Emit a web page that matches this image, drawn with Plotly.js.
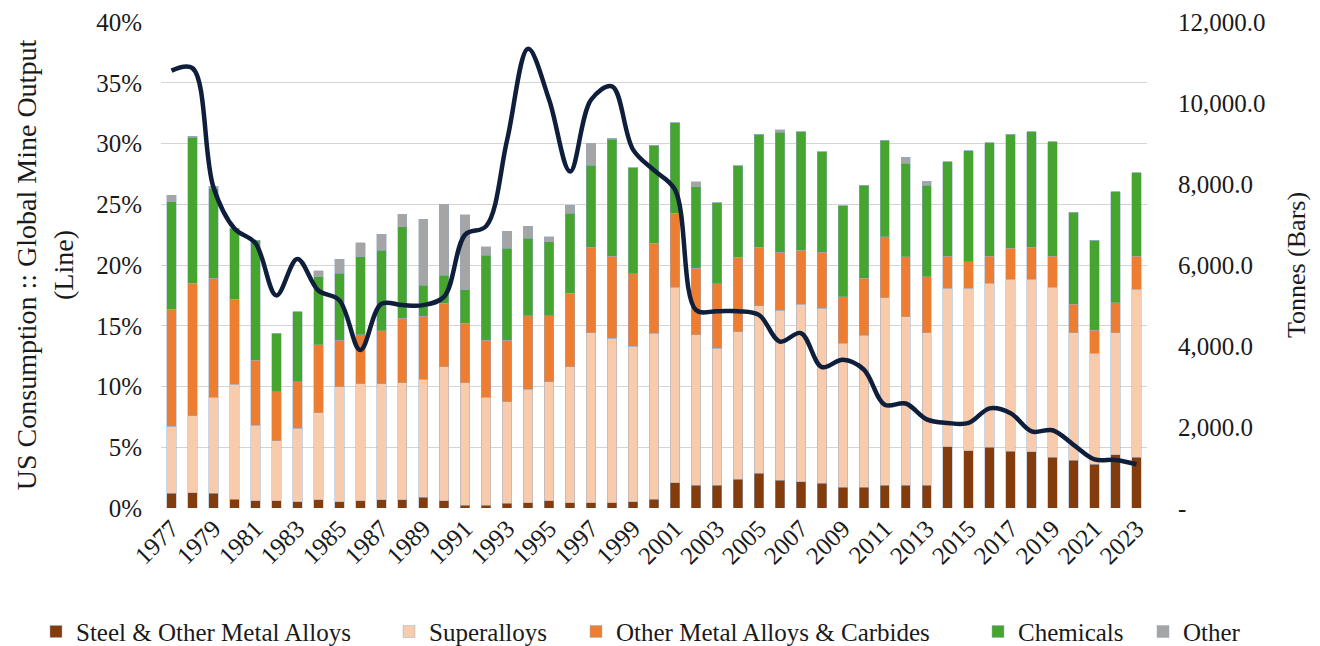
<!DOCTYPE html>
<html>
<head>
<meta charset="utf-8">
<script src="https://cdn.plot.ly/plotly-3.0.1.min.js"></script>
<style>
  html, body { margin: 0; padding: 0; background: #fff; }
  #chart { width: 1320px; height: 646px; }
</style>
</head>
<body>
<div id="chart"></div>
<script>
// years on the x axis
var years = [];
for (var yr = 1977; yr <= 2023; yr++) years.push(String(yr));

// tonnes by end use (bars, right axis)
var steel = [370, 378, 363, 222, 173, 173, 156, 198, 156, 173, 198, 198, 264, 173, 74, 74,
  116, 131, 173, 131, 131, 131, 156, 215, 625, 568, 568, 716, 857, 691, 649, 610,
  511, 511, 568, 568, 568, 1514, 1415, 1499, 1407, 1390, 1252, 1185, 1086, 1309, 1252];
var superalloys = [1654, 1894, 2370, 2839, 1876, 1489, 1812, 2155, 2839, 2889, 2864, 2896, 2913, 3316, 3020, 2659,
  2508, 2800, 2946, 3358, 4197, 4059, 3844, 4099, 4824, 3704, 3375, 3637, 4131, 4197, 4387, 4321,
  3555, 3760, 4624, 4155, 3760, 3911, 4010, 4049, 4239, 4257, 4197, 3143, 2733, 3020, 4148];
var otherAlloys = [2889, 3276, 2938, 2091, 1605, 1210, 1151, 1672, 1153, 1210, 1316, 1590, 1563, 1565, 1467, 1415,
  1523, 1810, 1622, 1812, 2108, 2032, 1778, 2222, 1827, 1647, 1588, 1837, 1449, 1425, 1333, 1383,
  1151, 1400, 1506, 1481, 1383, 797, 657, 674, 765, 790, 773, 709, 575, 741, 822];
var chemicals = [2649, 3605, 2222, 1753, 2963, 1442, 1728, 1687, 1647, 1933, 1992, 2262, 765, 699, 822, 2099,
  2264, 1918, 1834, 1975, 2032, 2881, 2625, 2427, 2237, 2015, 2007, 2262, 2797, 2963, 2921, 2484,
  2247, 2304, 2387, 2306, 2264, 2328, 2741, 2797, 2822, 2854, 2822, 2264, 2222, 2741, 2057];
var other = [165, 30, 50, 0, 0, 0, 0, 148, 346, 346, 388, 306, 1630, 1753, 1852, 205,
  427, 304, 123, 205, 536, 25, 0, 0, 0, 123, 0, 0, 0, 60, 0, 0,
  0, 0, 0, 148, 99, 0, 0, 0, 0, 0, 0, 0, 0, 0, 0];

// US consumption as share of global mine output, % (line, left axis)
var usShare = [36.0, 36.2, 26.4, 23.0, 21.8, 17.5, 20.5, 17.9, 17.1, 13.0, 16.8, 16.7, 16.7, 17.4, 22.5, 23.2,
  30.3, 37.8, 33.6, 27.7, 33.6, 34.7, 29.5, 27.8, 26.2, 16.3, 16.2, 16.2, 15.9, 13.7, 14.4, 11.6,
  12.2, 11.4, 8.5, 8.6, 7.3, 7.0, 7.0, 8.2, 7.8, 6.3, 6.4, 5.2, 4.0, 3.95, 3.6];

// tick labels
var yearTicks = years.filter(function (y, i) { return i % 2 === 0; });
var tonneTicks = [0, 2000, 4000, 6000, 8000, 10000, 12000];
var tonneLabels = ['-', '2,000.0', '4,000.0', '6,000.0', '8,000.0', '10,000.0', '12,000.0'];

var edge = { color: 'rgba(150,172,198,0.8)', width: 0.6 };
var serif = 'Liberation Serif, Times New Roman, serif';

function barTrace(name, vals, color, legendId) {
  return {
    type: 'bar', name: name, x: years, y: vals,
    xaxis: 'x', yaxis: 'y', legend: legendId,
    marker: { color: color, line: edge },
    hoverinfo: 'x+y+name'
  };
}

var traces = [
  barTrace('Steel & Other Metal Alloys', steel, '#843c0c', 'legend'),
  barTrace('Superalloys', superalloys, '#f8cbad', 'legend2'),
  barTrace('Other Metal Alloys & Carbides', otherAlloys, '#ed7d31', 'legend3'),
  barTrace('Chemicals', chemicals, '#45a52f', 'legend4'),
  barTrace('Other', other, '#a5a5a5', 'legend5'),
  {
    type: 'scatter', mode: 'lines', name: 'US share',
    x: years, y: usShare, xaxis: 'x', yaxis: 'y2',
    line: { color: '#0f1f3b', width: 4.5, shape: 'spline', smoothing: 1 },
    showlegend: false
  }
];

// one small legend per entry so the row spacing follows the original
function legendAt(px) {
  return {
    orientation: 'h', xref: 'container', yref: 'container',
    x: px / 1320, xanchor: 'left', y: 0.022, yanchor: 'middle',
    bgcolor: 'rgba(0,0,0,0)',
    font: { family: serif, size: 25, color: '#1a1a1a' }
  };
}

var layout = {
  width: 1320, height: 646,
  margin: { l: 161, r: 173, t: 22, b: 138 },
  paper_bgcolor: '#ffffff', plot_bgcolor: '#ffffff',
  font: { family: serif, size: 25, color: '#1a1a1a' },
  barmode: 'stack',
  bargap: 0.55,
  showlegend: true,
  legend: legendAt(36),
  legend2: legendAt(389),
  legend3: legendAt(576),
  legend4: legendAt(978),
  legend5: legendAt(1143),
  xaxis: {
    type: 'category', tickangle: -45,
    tickmode: 'array', tickvals: yearTicks, ticktext: yearTicks,
    showgrid: false, zeroline: false, showline: false, ticks: '',
    tickfont: { family: serif, size: 25 }
  },
  // bars on right axis
  yaxis: {
    side: 'right', range: [0, 12000],
    tickmode: 'array', tickvals: tonneTicks, ticktext: tonneLabels,
    showgrid: false, zeroline: false, showline: false, ticks: '',
    ticklabelstandoff: 30,
    tickfont: { family: serif, size: 25 },
    title: { text: 'Tonnes (Bars)', font: { family: serif, size: 26 }, standoff: 22 }
  },
  // line on left axis, drawn on top
  yaxis2: {
    side: 'left', overlaying: 'y', range: [0, 40], dtick: 5, ticksuffix: '%',
    showgrid: true, gridcolor: '#d4d4d4', gridwidth: 1.3,
    zeroline: false, showline: false, ticks: '',
    ticklabelstandoff: 18,
    tickfont: { family: serif, size: 25 },
    title: { text: 'US Consumption :: Global Mine Output<br>(Line)', font: { family: serif, size: 28 }, standoff: 14 }
  }
};

Plotly.newPlot('chart', traces, layout, { displayModeBar: false, responsive: false });
</script>
</body>
</html>
